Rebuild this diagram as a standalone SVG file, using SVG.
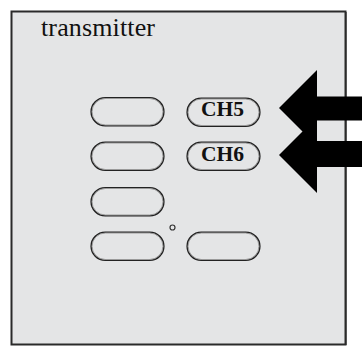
<svg xmlns="http://www.w3.org/2000/svg" width="362" height="347" viewBox="0 0 362 347">
<style>
.btn-o{fill:none;stroke:#222;stroke-width:3.2}
.btn-i{fill:#e4e5e6;stroke:#9a9a9a;stroke-width:1}
.lbl{font-family:"Liberation Serif","Times New Roman",serif;font-weight:bold;font-size:20px;fill:#111;text-anchor:middle}
.title{font-family:"Liberation Serif","Times New Roman",serif;font-size:26px;fill:#111}
.arrow{fill:#000}
</style>
<defs>
<rect id="cap" x="0" y="0" width="71" height="26.5" rx="13.25"/>
</defs>
<g id="transmitter">
<rect x="11.5" y="11.5" width="334" height="333" fill="#e4e5e6" stroke="#2a2a2a" stroke-width="2"/>
<line x1="346.5" y1="12" x2="346.5" y2="345" stroke="#555" stroke-width="1"/>
<text class="title" x="41" y="36" textLength="114">transmitter</text>
</g>
<g id="btn1"><use href="#cap" x="92" y="98.5" class="btn-o"/><use href="#cap" x="92" y="98.5" class="btn-i"/></g>
<g id="btn2"><use href="#cap" x="92" y="143" class="btn-o"/><use href="#cap" x="92" y="143" class="btn-i"/></g>
<g id="btn3"><use href="#cap" x="92" y="188.5" class="btn-o"/><use href="#cap" x="92" y="188.5" class="btn-i"/></g>
<g id="btn4"><use href="#cap" x="92" y="233" class="btn-o"/><use href="#cap" x="92" y="233" class="btn-i"/></g>
<g id="ch5"><use href="#cap" x="188" y="99" class="btn-o"/><use href="#cap" x="188" y="99" class="btn-i"/><text class="lbl" x="222.5" y="116" textLength="43" lengthAdjust="spacingAndGlyphs">CH5</text></g>
<g id="ch6"><use href="#cap" x="188" y="143" class="btn-o"/><use href="#cap" x="188" y="143" class="btn-i"/><text class="lbl" x="222.5" y="160.5" textLength="43" lengthAdjust="spacingAndGlyphs">CH6</text></g>
<g id="btn7"><use href="#cap" x="188" y="233" class="btn-o"/><use href="#cap" x="188" y="233" class="btn-i"/></g>
<g id="led"><circle cx="172.5" cy="227.5" r="2.5" fill="#e4e5e6" stroke="#333" stroke-width="1.2"/></g>
<g id="connectors">
<polygon class="arrow" points="279,108 317,70 317,96.5 362,96.5 362,120.5 317,120.5 317,146 279,108"/>
<polygon class="arrow" points="279,155 317,117 317,141 362,141 362,167 317,167 317,193 279,155"/>
</g>
</svg>
